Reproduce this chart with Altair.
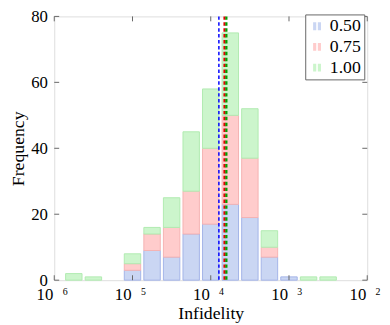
import altair as alt
import pandas as pd

# ---- data ----
bin_centers_log10 = [-5.75, -5.5, -5.0, -4.75, -4.5, -4.25, -4.0, -3.75, -3.5, -3.25, -3.0, -2.75, -2.5]
count_050 = [0, 0, 3, 9, 7, 14, 17, 23, 19, 7, 1, 0, 0]
count_075 = [0, 0, 2, 5, 9, 13, 23, 27, 18, 3, 0, 0, 0]
count_100 = [2, 1, 3, 2, 9, 18, 18, 25, 15, 5, 0, 1, 1]
series_names = ["0.50", "0.75", "1.00"]
mean_log10 = [-3.896, -3.824, -3.80]
decades = [1e-6, 1e-5, 1e-4, 1e-3, 1e-2]
decade_sup = ["6", "5", "4", "3", "2"]
y_ticks = [0, 20, 40, 60, 80]

# ---- styling ----
FONT = "Liberation Serif"
W, H = 318, 268
HALF_BIN = 0.105
fills = ["#cad6f3", "#ffcccc", "#ccf5cc"]
edges = ["#a3b4e8", "#f5b3b3", "#b0ebb0"]
line_cols = ["#0000ff", "#e00000", "#00a000"]
FRAME = "#666666"

rows = []
for i, c in enumerate(bin_centers_log10):
    cum = 0
    for k, counts in enumerate([count_050, count_075, count_100]):
        n = counts[i]
        if n > 0:
            rows.append({"lo": 10 ** (c - HALF_BIN), "hi": 10 ** (c + HALF_BIN),
                         "y0": cum, "y1": cum + n, "series": series_names[k]})
            cum += n
bars_df = pd.DataFrame(rows)

xscale = alt.Scale(type="log", domain=[1e-6, 1e-2], nice=False)
yscale = alt.Scale(domain=[0, 80], nice=False, zero=True)

x_axis = alt.Axis(values=decades, labelExpr="'10'", labelOffset=-10, ticks=False, tickSize=0,
                  domain=False, grid=False, labelFlush=False, labelOverlap=False,
                  labelFont=FONT, labelFontSize=17, labelColor="black", labelPadding=7,
                  title="Infidelity", titleFont=FONT, titleFontSize=18, titleFontWeight="normal",
                  titleColor="black", titlePadding=2)
y_axis = alt.Axis(values=y_ticks, ticks=False, tickSize=0, domain=False, grid=False,
                  labelFont=FONT, labelFontSize=17, labelColor="black", labelPadding=7,
                  title="Frequency", titleFont=FONT, titleFontSize=18, titleFontWeight="normal",
                  titleColor="black", titleX=-27, titleY=H / 2)

legend_symbol = "M-1,-1H-0.2V1H-1Z M0.2,-1H1V1H0.2Z"

bars = alt.Chart(bars_df).mark_rect(strokeWidth=1).encode(
    x=alt.X("lo:Q", scale=xscale, axis=x_axis),
    x2="hi:Q",
    y=alt.Y("y0:Q", scale=yscale, axis=y_axis),
    y2="y1:Q",
    color=alt.Color("series:N", scale=alt.Scale(domain=series_names, range=fills),
                    legend=alt.Legend(orient="none", legendX=255, legendY=-2, title=None,
                                      symbolType=legend_symbol, symbolSize=64,
                                      symbolStrokeWidth=0, labelFont=FONT, labelFontSize=18,
                                      labelColor="black", labelOffset=4, rowPadding=3,
                                      padding=3, strokeColor=FRAME, fillColor="white",
                                      cornerRadius=0)),
    stroke=alt.Stroke("series:N", scale=alt.Scale(domain=series_names, range=edges), legend=None),
)

mean_df = pd.DataFrame({"m": [10 ** v for v in mean_log10], "series": series_names})
mean_layers = []
styles = [dict(strokeWidth=1.5, strokeDash=[3.5, 2.5]),
          dict(strokeWidth=2.2, strokeDash=[3.5, 2.5]),
          dict(strokeWidth=2.2, strokeDash=[3.5, 2.5])]
for k in range(3):
    mean_layers.append(
        alt.Chart(mean_df[mean_df.series == series_names[k]]).mark_rule(
            color=line_cols[k], **styles[k]).encode(x=alt.X("m:Q", scale=xscale))
    )

yt_df = pd.DataFrame({"v": y_ticks})
dec_df = pd.DataFrame({"d": decades, "sup": decade_sup})
left_ticks = alt.Chart(yt_df).mark_rule(color=FRAME).encode(
    y=alt.Y("v:Q", scale=yscale), x=alt.value(0), x2=alt.value(5))
right_ticks = alt.Chart(yt_df).mark_rule(color=FRAME).encode(
    y=alt.Y("v:Q", scale=yscale), x=alt.value(W - 5), x2=alt.value(W))
bottom_ticks = alt.Chart(dec_df).mark_rule(color=FRAME).encode(
    x=alt.X("d:Q", scale=xscale), y=alt.value(H - 5), y2=alt.value(H))
top_ticks = alt.Chart(dec_df).mark_rule(color=FRAME).encode(
    x=alt.X("d:Q", scale=xscale), y=alt.value(0), y2=alt.value(5))
sups = alt.Chart(dec_df).mark_text(font=FONT, fontSize=10, dx=11, baseline="alphabetic",
                                   color="black").encode(
    x=alt.X("d:Q", scale=xscale), y=alt.value(H + 15), text="sup:N")

chart = alt.layer(bars, *mean_layers, left_ticks, right_ticks, bottom_ticks, top_ticks, sups).properties(
    width=W, height=H,
    autosize=alt.AutoSizeParams(type="none"),
    padding={"left": 47, "top": 6, "right": 15, "bottom": 43},
).configure_view(stroke=FRAME, strokeWidth=1).configure(
    background="white", font=FONT
).configure_axis(labelFont=FONT, titleFont=FONT).configure_legend(labelFont=FONT)

chart.save("out.html", embed_options={"renderer": "svg", "actions": False})
